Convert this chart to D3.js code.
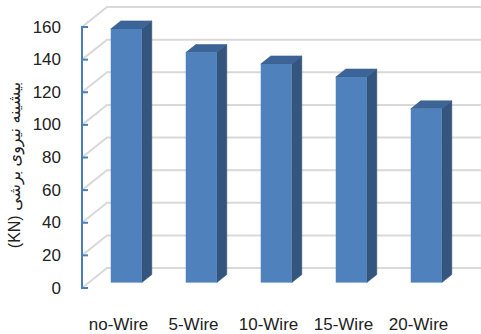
<!DOCTYPE html>
<html>
<head>
<meta charset="utf-8">
<script src="https://cdn.jsdelivr.net/npm/d3@7"></script>
<style>
  html, body { margin: 0; padding: 0; background: #ffffff; }
  svg { display: block; }
  text { font-family: "Liberation Sans", Arial, "DejaVu Sans", sans-serif; fill: #222; }
</style>
</head>
<body>
<svg id="chart" width="481" height="334"></svg>
<script>
// Peak shear force per configuration
const categories = ["no-Wire", "5-Wire", "10-Wire", "15-Wire", "20-Wire"];
const peakShear = [155.5, 141, 134, 126, 106.5];
const yTicks = [0, 20, 40, 60, 80, 100, 120, 140, 160];
const yTitle = "(KN) بیشینه نیروی برشی";

const W = 481, H = 334;
const svg = d3.select("#chart");

// Front plane of the 3D box, plus depth offset for the back wall
const x = d3.scaleBand().domain(categories).range([82, 457]);
const y = d3.scaleLinear().domain([0, 160]).range([288, 27]);
const DX = 25, DY = -20;
const P = (px, v, z) => [px + z * DX, y(v) + z * DY];

// Gridlines: side wall diagonal + back wall horizontal
const grid = svg.append("g");
yTicks.forEach(t => {
  const a = P(x.range()[0], t, 0), b = P(x.range()[0], t, 1);
  grid.append("polyline")
    .attr("points", [a, b, [W, b[1]]].map(p => p.join(",")).join(" "))
    .attr("fill", "none")
    .attr("stroke", "#d9d9d9")
    .attr("stroke-width", 2);
});

// 3D columns
const barW = 31, z0 = 0.27, z1 = 0.67;
const bars = svg.append("g");
categories.forEach((c, i) => {
  const v = peakShear[i];
  const x0 = x(c) + (x.bandwidth() - barW) / 2, x1 = x0 + barW;
  const poly = pts => pts.map(p => p.join(",")).join(" ");
  // side face
  bars.append("polygon")
    .attr("points", poly([P(x1, 0, z0), P(x1, 0, z1), P(x1, v, z1), P(x1, v, z0)]))
    .attr("fill", "#34557e").attr("stroke", "#2f4d73").attr("stroke-width", 0.6);
  // top face
  bars.append("polygon")
    .attr("points", poly([P(x0, v, z0), P(x1, v, z0), P(x1, v, z1), P(x0, v, z1)]))
    .attr("fill", "#3c6496").attr("stroke", "#3a5f8e").attr("stroke-width", 0.6);
  // front face
  const f0 = P(x0, v, z0), f1 = P(x1, 0, z0);
  bars.append("rect")
    .attr("x", f0[0]).attr("y", f0[1])
    .attr("width", f1[0] - f0[0]).attr("height", f1[1] - f0[1])
    .attr("fill", "#4f81bd");
});

// Value axis
const ax = svg.append("g");
ax.append("line")
  .attr("x1", 82).attr("x2", 82).attr("y1", y(160)).attr("y2", y(0) + 1)
  .attr("stroke", "#4a7ebb").attr("stroke-width", 2);
yTicks.forEach(t => {
  ax.append("line")
    .attr("x1", 81).attr("x2", 88).attr("y1", y(t)).attr("y2", y(t))
    .attr("stroke", "#4a7ebb").attr("stroke-width", 2);
  ax.append("text")
    .attr("x", 61).attr("y", y(t))
    .attr("text-anchor", "end")
    .attr("dominant-baseline", "central")
    .attr("font-size", 17)
    .text(t);
});

// Category labels
categories.forEach(c => {
  svg.append("text")
    .attr("x", x(c) + x.bandwidth() / 2 - 1)
    .attr("y", 330)
    .attr("text-anchor", "middle")
    .attr("font-size", 17)
    .text(c);
});

// Axis title
svg.append("text")
  .attr("transform", "translate(20,165) rotate(-90)")
  .attr("text-anchor", "middle")
  .attr("font-size", 16)
  .text(yTitle);
</script>
</body>
</html>
